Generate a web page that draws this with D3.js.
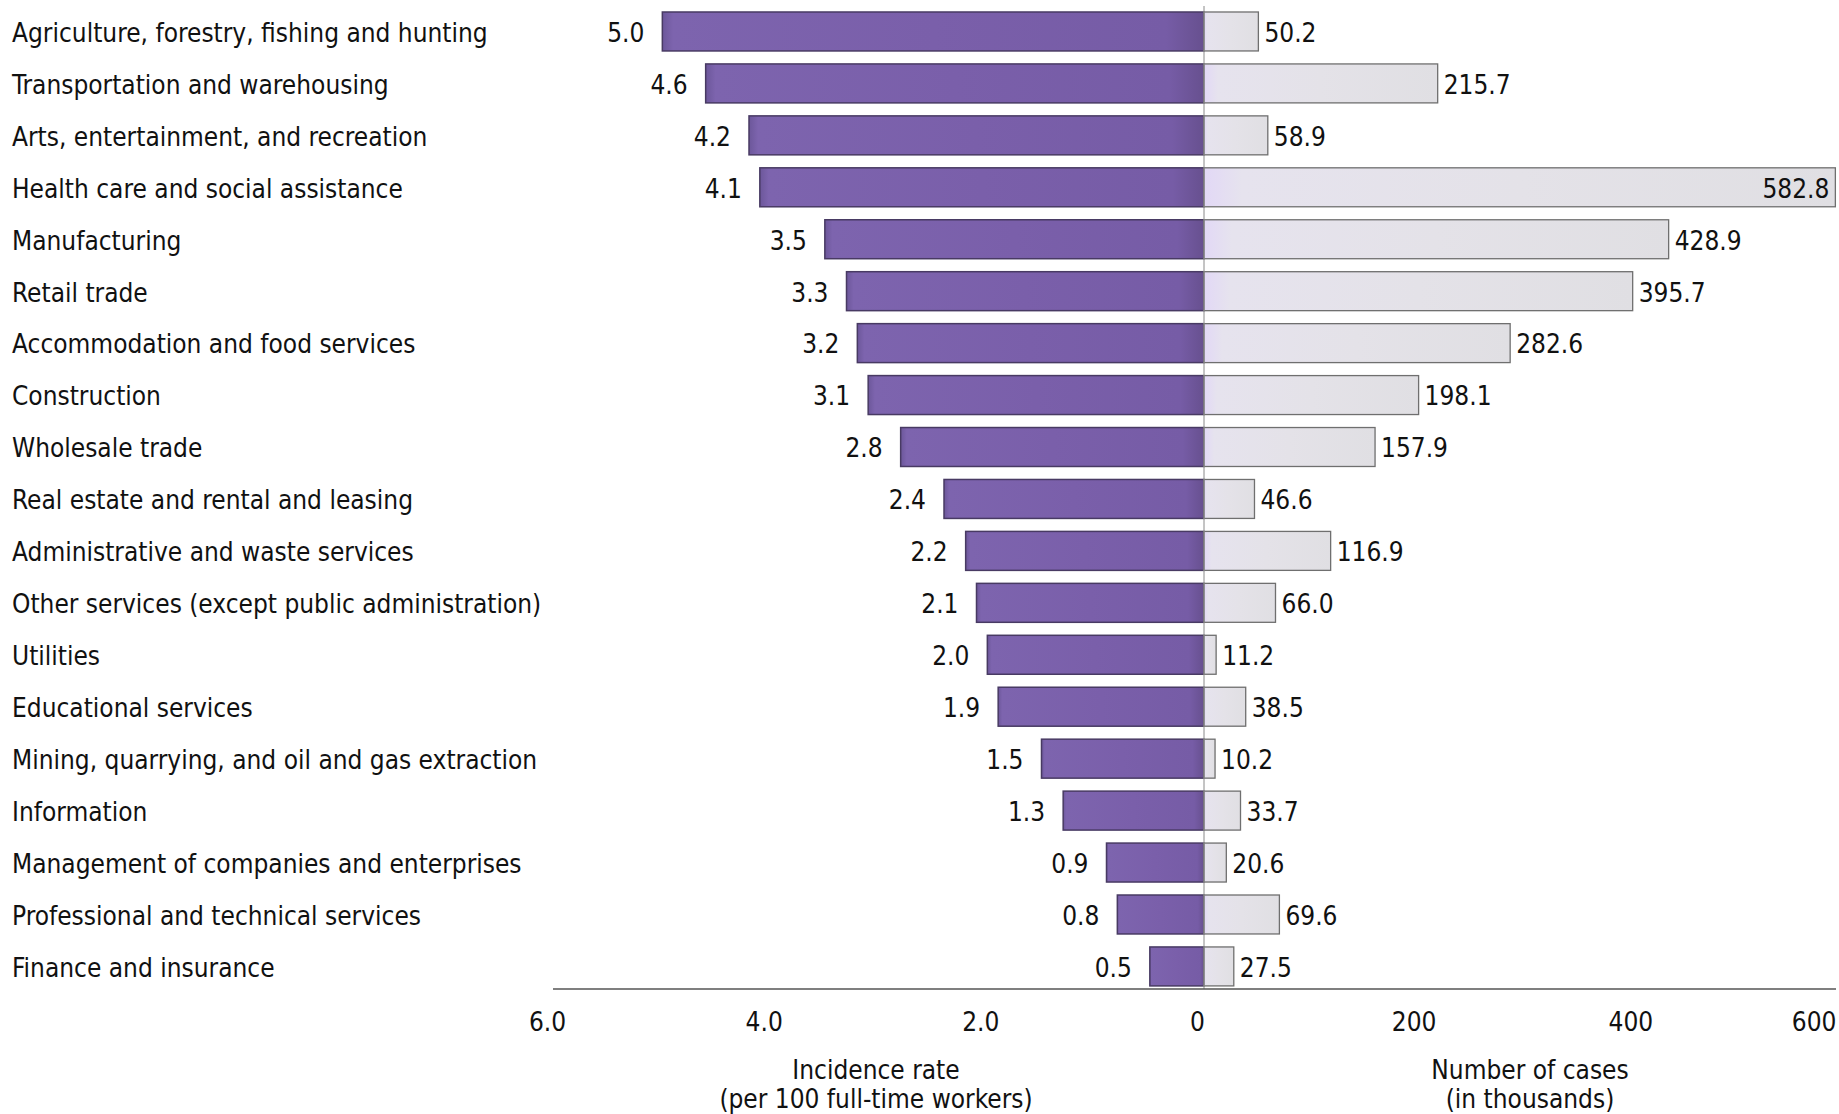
<!DOCTYPE html>
<html>
<head>
<meta charset="utf-8">
<script src="https://cdn.jsdelivr.net/npm/d3@7"></script>
<style>
  html, body { margin: 0; padding: 0; background: #ffffff; }
  svg { display: block; }
</style>
</head>
<body>
<svg id="chart" width="1839" height="1114"></svg>
<script>
const categories = [
  "Agriculture, forestry, fishing and hunting",
  "Transportation and warehousing",
  "Arts, entertainment, and recreation",
  "Health care and social assistance",
  "Manufacturing",
  "Retail trade",
  "Accommodation and food services",
  "Construction",
  "Wholesale trade",
  "Real estate and rental and leasing",
  "Administrative and waste services",
  "Other services (except public administration)",
  "Utilities",
  "Educational services",
  "Mining, quarrying, and oil and gas extraction",
  "Information",
  "Management of companies and enterprises",
  "Professional and technical services",
  "Finance and insurance"
];
const incidenceRate = [5.0, 4.6, 4.2, 4.1, 3.5, 3.3, 3.2, 3.1, 2.8, 2.4, 2.2, 2.1, 2.0, 1.9, 1.5, 1.3, 0.9, 0.8, 0.5];
const casesThousands = [50.2, 215.7, 58.9, 582.8, 428.9, 395.7, 282.6, 198.1, 157.9, 46.6, 116.9, 66.0, 11.2, 38.5, 10.2, 33.7, 20.6, 69.6, 27.5];
const rateTicks = [6, 4, 2, 0];
const rateTickLabels = ["6.0", "4.0", "2.0", "0"];
const caseTicks = [200, 400, 600];
const caseTickLabels = ["200", "400", "600"];
const rateTitle = ["Incidence rate", "(per 100 full-time workers)"];
const casesTitle = ["Number of cases", "(in thousands)"];

const W = 1839, H = 1114;
const zeroX = 1204;
const svg = d3.select("#chart");

// choose a font: prefer a condensed face if installed, size fitted to the reference label width
function measure(family, s) {
  const t = svg.append("text").attr("font-family", family).attr("font-size", 100).text(s);
  const w = t.node().getComputedTextLength();
  t.remove();
  return w;
}
const probe = categories[0];
const wNormal = measure("'DejaVu Sans'", probe);
const wCond = measure("'DejaVu Sans Condensed', 'DejaVu Sans'", probe);
const FONT = (wCond < wNormal * 0.97) ? "'DejaVu Sans Condensed', 'DejaVu Sans', sans-serif" : "'DejaVu Sans', sans-serif";
const FS = 100 * 476 / Math.min(wCond, wNormal);
svg.style("font-family", FONT);

const xL = d3.scaleLinear().domain([0, 6]).range([zeroX, zeroX - 650]);
const xR = d3.scaleLinear().domain([0, 600]).range([zeroX, zeroX + 650]);
const y = d3.scaleBand().domain(categories).range([5.5, 992.4]).paddingInner(0.25).paddingOuter(0.125);

const data = categories.map((c, i) => ({ c, rate: incidenceRate[i], cases: casesThousands[i] }));

// gradients
const defs = svg.append("defs");
const gP = defs.append("linearGradient").attr("id", "gPurple").attr("x1", 0).attr("x2", 1).attr("y1", 0).attr("y2", 0);
[[0, "#6c579a"], [0.02, "#7d64ae"], [0.5, "#7a5faa"], [0.93, "#765ca6"], [1, "#67508f"]]
  .forEach(([o, c]) => gP.append("stop").attr("offset", o).attr("stop-color", c));
const gG = defs.append("linearGradient").attr("id", "gGray").attr("x1", 0).attr("x2", 1).attr("y1", 0).attr("y2", 0);
[[0, "#e2d8f6"], [0.06, "#e6e3ee"], [0.5, "#e4e2e8"], [1, "#e0dfe3"]]
  .forEach(([o, c]) => gG.append("stop").attr("offset", o).attr("stop-color", c));

// category labels
svg.append("g").selectAll("text").data(data).join("text")
  .attr("x", 12)
  .attr("y", d => y(d.c) + y.bandwidth() / 2 + 1)
  .attr("dy", "0.36em")
  .attr("font-size", FS)
  .attr("fill", "#111")
  .text(d => d.c);

// left bars (incidence rate)
svg.append("g").selectAll("rect").data(data).join("rect")
  .attr("x", d => xL(d.rate))
  .attr("y", d => y(d.c))
  .attr("width", d => zeroX - xL(d.rate))
  .attr("height", y.bandwidth())
  .attr("fill", "url(#gPurple)")
  .attr("stroke", "#483a63")
  .attr("stroke-width", 1.5);

// right bars (cases)
svg.append("g").selectAll("rect").data(data).join("rect")
  .attr("x", zeroX)
  .attr("y", d => y(d.c))
  .attr("width", d => xR(d.cases) - zeroX)
  .attr("height", y.bandwidth())
  .attr("fill", "url(#gGray)")
  .attr("stroke", "#6f6f6f")
  .attr("stroke-width", 1.3);

// zero line
svg.append("line")
  .attr("x1", zeroX).attr("x2", zeroX)
  .attr("y1", 6).attr("y2", 989)
  .attr("stroke", "#8a8a8a").attr("stroke-width", 1);

// left value labels
svg.append("g").selectAll("text").data(data).join("text")
  .attr("x", d => xL(d.rate) - 18)
  .attr("y", d => y(d.c) + y.bandwidth() / 2 + 1)
  .attr("dy", "0.36em")
  .attr("text-anchor", "end")
  .attr("font-size", FS)
  .attr("fill", "#111")
  .text(d => d3.format(".1f")(d.rate));

// right value labels
const rl = svg.append("g").selectAll("text").data(data).join("text")
  .attr("y", d => y(d.c) + y.bandwidth() / 2 + 1)
  .attr("dy", "0.36em")
  .attr("font-size", FS)
  .attr("fill", "#111")
  .text(d => d3.format(".1f")(d.cases));
rl.each(function (d) {
  const t = d3.select(this);
  const w = this.getComputedTextLength();
  if (xR(d.cases) + 6 + w > W - 2) {
    t.attr("x", xR(d.cases) - 6).attr("text-anchor", "end");
  } else {
    t.attr("x", xR(d.cases) + 6).attr("text-anchor", "start");
  }
});

// axes
const axisY = 989;
svg.append("line")
  .attr("x1", 553).attr("x2", 1836)
  .attr("y1", axisY).attr("y2", axisY)
  .attr("stroke", "#555").attr("stroke-width", 1.5);

const axL = d3.axisBottom(xL).tickValues(rateTicks).tickSize(0).tickPadding(0)
  .tickFormat((d, i) => rateTickLabels[i]);
const gAL = svg.append("g").attr("transform", `translate(0,${axisY})`).call(axL);
gAL.select(".domain").remove();
gAL.attr("font-family", null).attr("font-size", null);
gAL.selectAll("text").attr("font-size", FS)
  .attr("fill", "#111").attr("y", 33).attr("dx", -7).attr("dy", "0.36em");

const axR = d3.axisBottom(xR).tickValues(caseTicks).tickSize(0).tickPadding(0)
  .tickFormat((d, i) => caseTickLabels[i]);
const gAR = svg.append("g").attr("transform", `translate(0,${axisY})`).call(axR);
gAR.select(".domain").remove();
gAR.attr("font-family", null).attr("font-size", null);
gAR.selectAll("text").attr("font-size", FS)
  .attr("fill", "#111").attr("y", 33).attr("dx", -7).attr("dy", "0.36em");
gAR.selectAll(".tick").filter(d => d === 600).select("text")
  .attr("text-anchor", "end").attr("dx", 0).attr("x", W - 3 - xR(600));

// axis titles
const titleL = svg.append("text").attr("text-anchor", "middle").attr("font-size", FS).attr("fill", "#111");
rateTitle.forEach((s, i) => titleL.append("tspan").attr("x", 876).attr("y", 1079 + i * 29).text(s));
const titleR = svg.append("text").attr("text-anchor", "middle").attr("font-size", FS).attr("fill", "#111");
casesTitle.forEach((s, i) => titleR.append("tspan").attr("x", 1530).attr("y", 1079 + i * 29).text(s));
</script>
</body>
</html>
